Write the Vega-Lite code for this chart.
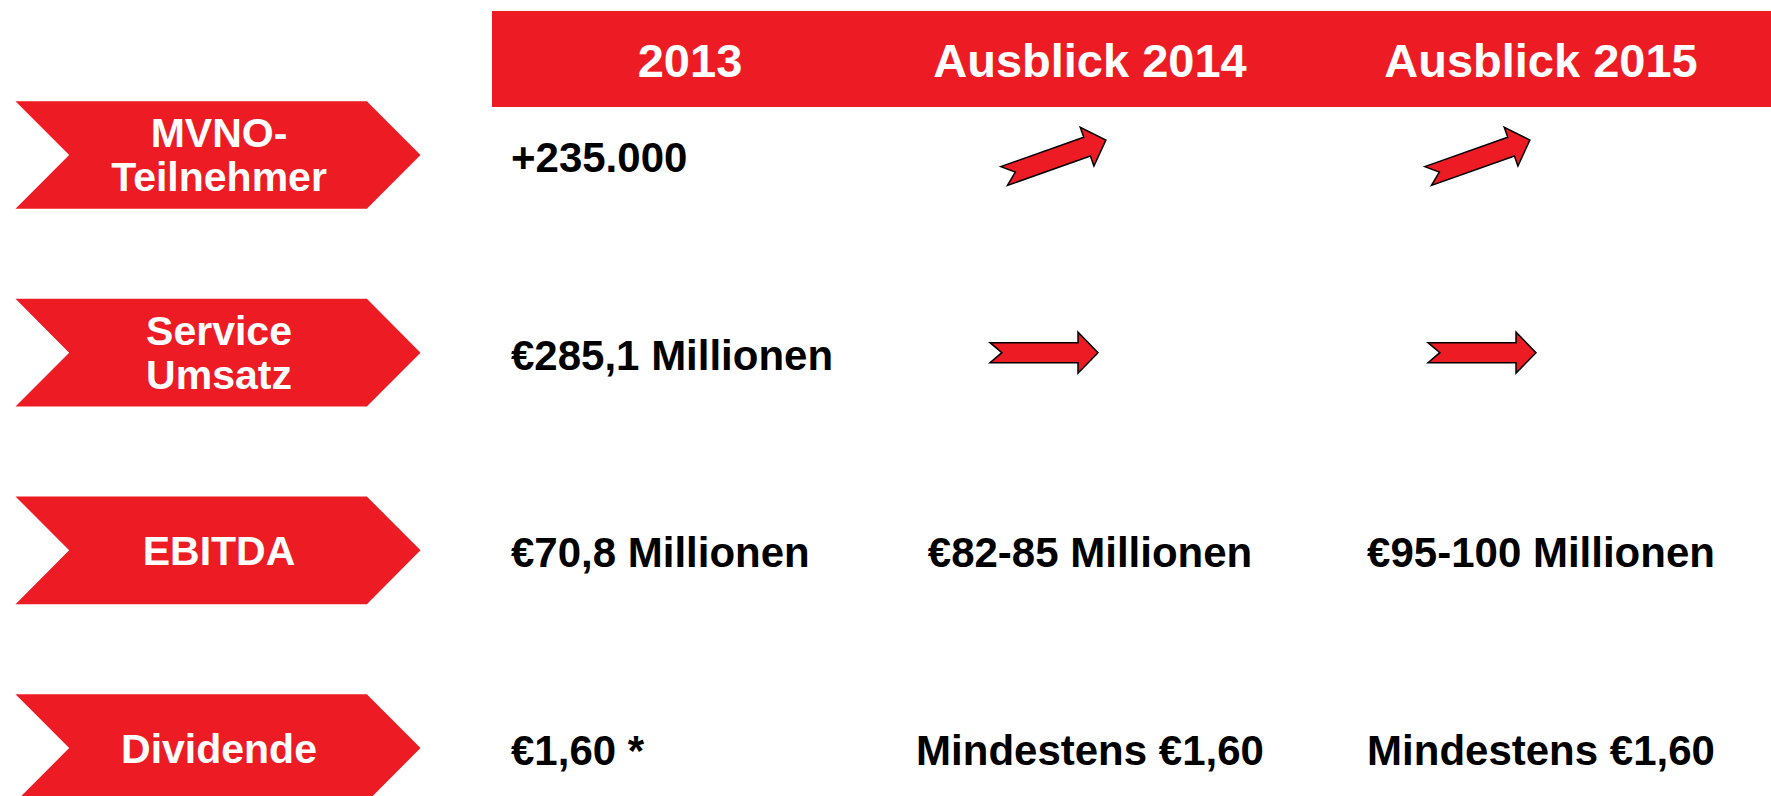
{
  "$schema": "https://vega.github.io/schema/vega-lite/v6.json",
  "width": 1771,
  "height": 796,
  "padding": 0,
  "autosize": {"type": "none"},
  "background": "white",
  "view": {"stroke": null},
  "config": {"text": {"font": "Liberation Sans", "fontWeight": "bold"}},
  "datasets": {
    "headers": [{"col": "2013"}, {"col": "Ausblick 2014"}, {"col": "Ausblick 2015"}],
    "rows": [
      {"metric": "MVNO", "label": "MVNO-\nTeilnehmer"},
      {"metric": "Service", "label": "Service\nUmsatz"},
      {"metric": "EBITDA", "label": "EBITDA"},
      {"metric": "Dividende", "label": "Dividende"}
    ],
    "values": [
      {"metric": "MVNO", "col": "2013", "value": "+235.000"},
      {"metric": "Service", "col": "2013", "value": "€285,1 Millionen"},
      {"metric": "EBITDA", "col": "2013", "value": "€70,8 Millionen"},
      {"metric": "EBITDA", "col": "Ausblick 2014", "value": "€82-85 Millionen"},
      {"metric": "EBITDA", "col": "Ausblick 2015", "value": "€95-100 Millionen"},
      {"metric": "Dividende", "col": "2013", "value": "€1,60 *"},
      {"metric": "Dividende", "col": "Ausblick 2014", "value": "Mindestens €1,60"},
      {"metric": "Dividende", "col": "Ausblick 2015", "value": "Mindestens €1,60"}
    ],
    "trends": [
      {"metric": "MVNO", "col": "Ausblick 2014", "trend": "steigend"},
      {"metric": "MVNO", "col": "Ausblick 2015", "trend": "steigend"},
      {"metric": "Service", "col": "Ausblick 2014", "trend": "stabil"},
      {"metric": "Service", "col": "Ausblick 2015", "trend": "stabil"}
    ]
  },
  "resolve": {"scale": {"x": "independent"}},
  "layer": [
    {
      "data": {"values": [{"von": "2013", "bis": "Ausblick 2015"}]},
      "mark": {"type": "rect", "color": "#ED1C24", "xOffset": -149, "x2Offset": 228, "yOffset": -144, "y2Offset": -48},
      "encoding": {
        "x": {"field": "von", "type": "nominal", "axis": null, "scale": {"type": "point", "domain": ["Kennzahl", "2013", "Ausblick 2014", "Ausblick 2015"], "range": [190, 1543], "padding": 0}},
        "x2": {"field": "bis"},
        "y": {"datum": "MVNO", "type": "nominal", "axis": null, "scale": {"type": "point", "domain": ["MVNO", "Service", "EBITDA", "Dividende"], "range": [155, 748], "padding": 0}},
        "y2": {"datum": "MVNO"}
      }
    },
    {
      "data": {"name": "headers"},
      "transform": [{"filter": "datum.col === '2013'"}],
      "mark": {"type": "text", "color": "white", "fontSize": 47, "align": "center", "baseline": "middle", "dx": 49, "dy": -92},
      "encoding": {
        "x": {"field": "col", "type": "nominal", "axis": null, "scale": {"type": "point", "domain": ["Kennzahl", "2013", "Ausblick 2014", "Ausblick 2015"], "range": [190, 1543], "padding": 0}},
        "y": {"datum": "MVNO", "type": "nominal", "axis": null, "scale": {"type": "point", "domain": ["MVNO", "Service", "EBITDA", "Dividende"], "range": [155, 748], "padding": 0}},
        "text": {"field": "col"}
      }
    },
    {
      "data": {"name": "headers"},
      "transform": [{"filter": "datum.col !== '2013'"}],
      "mark": {"type": "text", "color": "white", "fontSize": 47, "align": "center", "baseline": "middle", "dx": -2, "dy": -92},
      "encoding": {
        "x": {"field": "col", "type": "nominal", "axis": null, "scale": {"type": "point", "domain": ["Kennzahl", "2013", "Ausblick 2014", "Ausblick 2015"], "range": [190, 1543], "padding": 0}},
        "y": {"datum": "MVNO", "type": "nominal", "axis": null, "scale": {"type": "point", "domain": ["MVNO", "Service", "EBITDA", "Dividende"], "range": [155, 748], "padding": 0}},
        "text": {"field": "col"}
      }
    },
    {
      "data": {"name": "rows"},
      "mark": {"type": "point", "shape": "M -1 -0.266 L 0.735 -0.266 L 1 0 L 0.735 0.266 L -1 0.266 L -0.735 0 Z", "size": 164025, "filled": true, "color": "#ED1C24", "opacity": 1, "strokeWidth": 0, "xOffset": 28},
      "encoding": {
        "x": {"datum": "Kennzahl", "type": "nominal", "axis": null, "scale": {"type": "point", "domain": ["Kennzahl", "2013", "Ausblick 2014", "Ausblick 2015"], "range": [190, 1543], "padding": 0}},
        "y": {"field": "metric", "type": "nominal", "axis": null, "scale": {"type": "point", "domain": ["MVNO", "Service", "EBITDA", "Dividende"], "range": [155, 748], "padding": 0}}
      }
    },
    {
      "data": {"name": "rows"},
      "transform": [{"filter": "indexof(datum.label, '\\n') < 0"}],
      "mark": {"type": "text", "color": "white", "fontSize": 41, "align": "center", "baseline": "middle", "dx": 29, "dy": 3},
      "encoding": {
        "x": {"datum": "Kennzahl", "type": "nominal", "axis": null, "scale": {"type": "point", "domain": ["Kennzahl", "2013", "Ausblick 2014", "Ausblick 2015"], "range": [190, 1543], "padding": 0}},
        "y": {"field": "metric", "type": "nominal", "axis": null, "scale": {"type": "point", "domain": ["MVNO", "Service", "EBITDA", "Dividende"], "range": [155, 748], "padding": 0}},
        "text": {"field": "label"}
      }
    },
    {
      "data": {"name": "rows"},
      "transform": [{"filter": "indexof(datum.label, '\\n') >= 0"}],
      "mark": {"type": "text", "color": "white", "fontSize": 41, "align": "center", "baseline": "middle", "dx": 29, "dy": -20, "lineBreak": "\n", "lineHeight": 44},
      "encoding": {
        "x": {"datum": "Kennzahl", "type": "nominal", "axis": null, "scale": {"type": "point", "domain": ["Kennzahl", "2013", "Ausblick 2014", "Ausblick 2015"], "range": [190, 1543], "padding": 0}},
        "y": {"field": "metric", "type": "nominal", "axis": null, "scale": {"type": "point", "domain": ["MVNO", "Service", "EBITDA", "Dividende"], "range": [155, 748], "padding": 0}},
        "text": {"field": "label"}
      }
    },
    {
      "data": {"name": "values"},
      "transform": [{"filter": "datum.col === '2013'"}],
      "mark": {"type": "text", "color": "black", "fontSize": 42, "align": "left", "baseline": "middle", "dx": -130, "dy": 4},
      "encoding": {
        "x": {"field": "col", "type": "nominal", "axis": null, "scale": {"type": "point", "domain": ["Kennzahl", "2013", "Ausblick 2014", "Ausblick 2015"], "range": [190, 1543], "padding": 0}},
        "y": {"field": "metric", "type": "nominal", "axis": null, "scale": {"type": "point", "domain": ["MVNO", "Service", "EBITDA", "Dividende"], "range": [155, 748], "padding": 0}},
        "text": {"field": "value"}
      }
    },
    {
      "data": {"name": "values"},
      "transform": [{"filter": "datum.col !== '2013'"}],
      "mark": {"type": "text", "color": "black", "fontSize": 42, "align": "center", "baseline": "middle", "dx": -2, "dy": 4},
      "encoding": {
        "x": {"field": "col", "type": "nominal", "axis": null, "scale": {"type": "point", "domain": ["Kennzahl", "2013", "Ausblick 2014", "Ausblick 2015"], "range": [190, 1543], "padding": 0}},
        "y": {"field": "metric", "type": "nominal", "axis": null, "scale": {"type": "point", "domain": ["MVNO", "Service", "EBITDA", "Dividende"], "range": [155, 748], "padding": 0}},
        "text": {"field": "value"}
      }
    },
    {
      "data": {"name": "trends"},
      "transform": [{"filter": "datum.trend === 'steigend'"}],
      "mark": {"type": "point", "shape": "M -1 -0.185 L 0.63 -0.185 L 0.63 -0.38 L 1 0 L 0.63 0.38 L 0.63 0.185 L -1 0.185 L -0.78 0 Z", "size": 11664, "angle": -19.5, "filled": true, "fill": "#ED1C24", "stroke": "black", "strokeWidth": 1.5, "opacity": 1, "yOffset": 3},
      "encoding": {
        "x": {"field": "col", "type": "nominal", "axis": null, "scale": {"type": "point", "domain": ["Ausblick 2014", "Ausblick 2015"], "range": [1055, 1479], "padding": 0}},
        "y": {"field": "metric", "type": "nominal", "axis": null, "scale": {"type": "point", "domain": ["MVNO", "Service", "EBITDA", "Dividende"], "range": [155, 748], "padding": 0}}
      }
    },
    {
      "data": {"name": "trends"},
      "transform": [{"filter": "datum.trend === 'stabil'"}],
      "mark": {"type": "point", "shape": "M -1 -0.185 L 0.63 -0.185 L 0.63 -0.38 L 1 0 L 0.63 0.38 L 0.63 0.185 L -1 0.185 L -0.78 0 Z", "size": 11664, "filled": true, "fill": "#ED1C24", "stroke": "black", "strokeWidth": 1.5, "opacity": 1},
      "encoding": {
        "x": {"field": "col", "type": "nominal", "axis": null, "scale": {"type": "point", "domain": ["Ausblick 2014", "Ausblick 2015"], "range": [1044, 1482], "padding": 0}},
        "y": {"field": "metric", "type": "nominal", "axis": null, "scale": {"type": "point", "domain": ["MVNO", "Service", "EBITDA", "Dividende"], "range": [155, 748], "padding": 0}}
      }
    }
  ]
}
